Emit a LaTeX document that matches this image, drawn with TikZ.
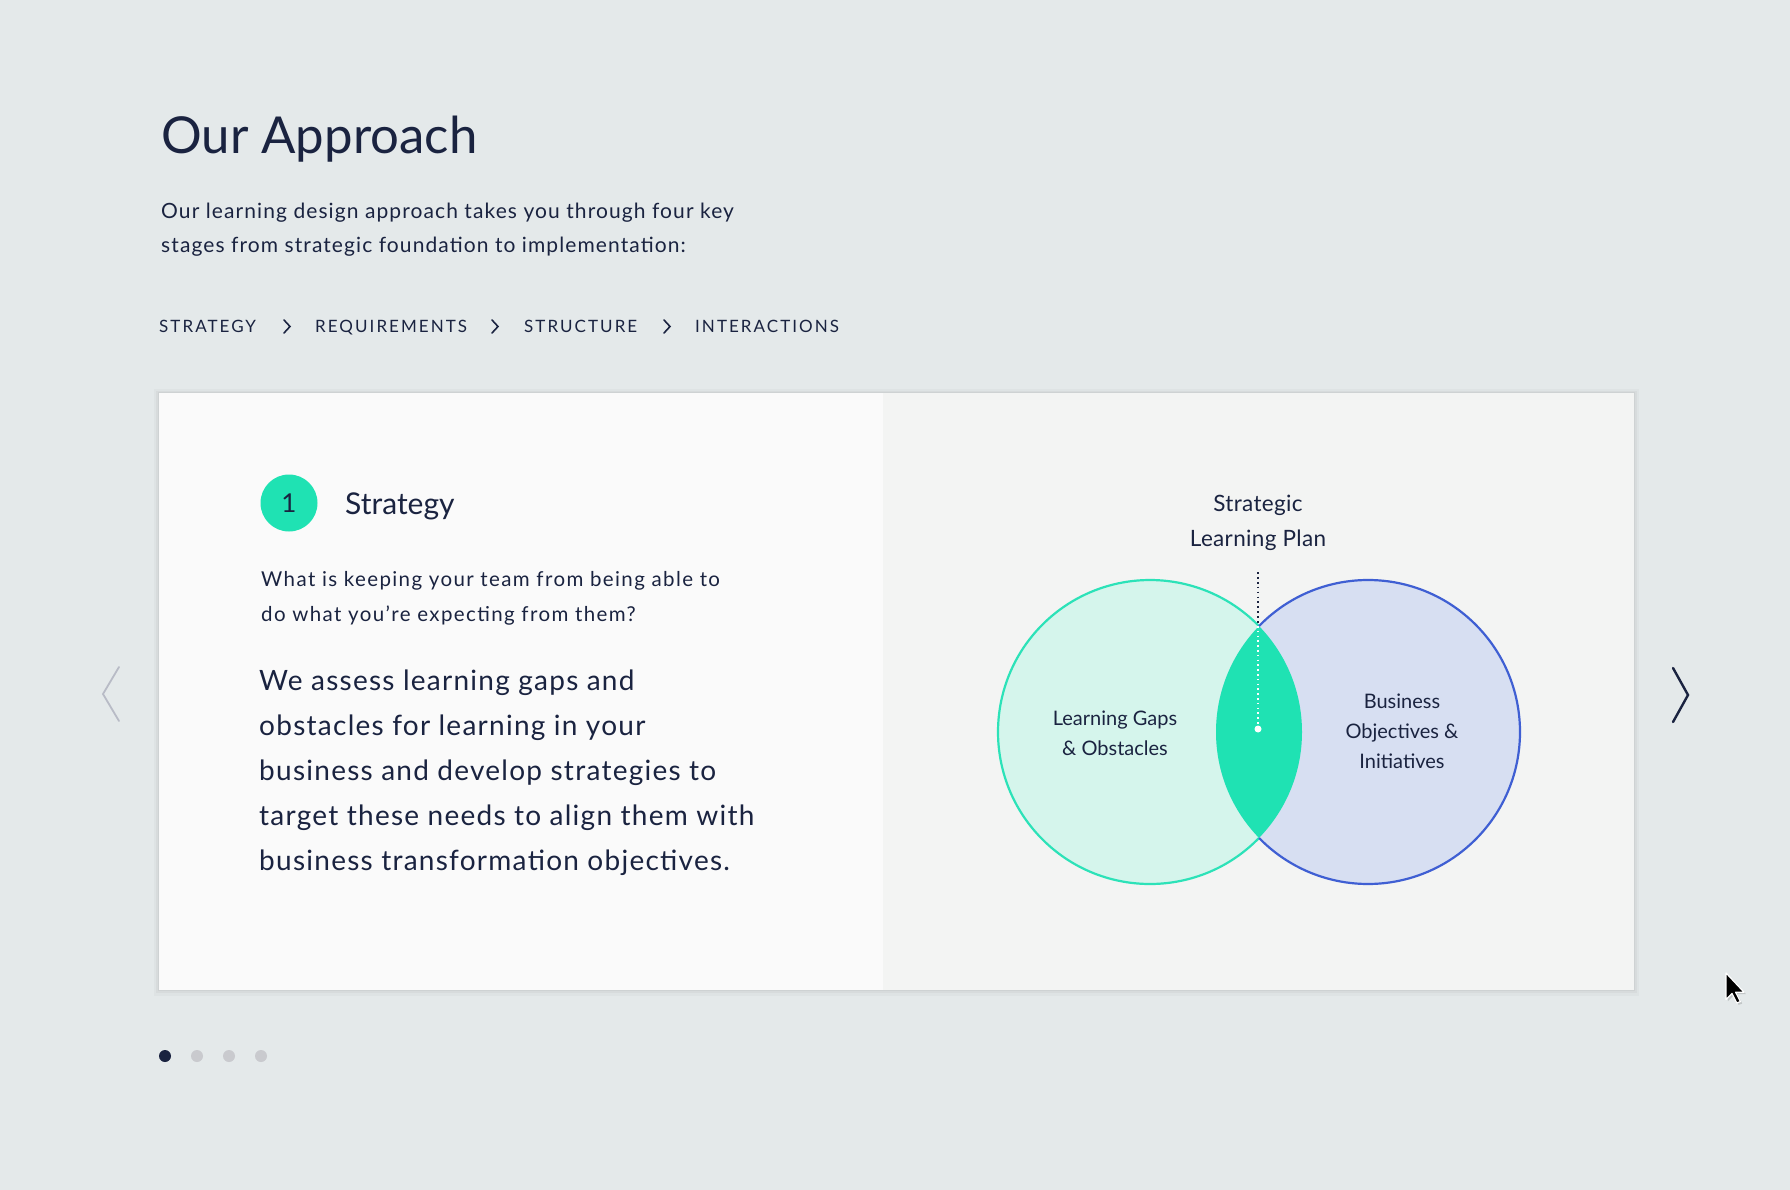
\documentclass[tikz,border=0pt]{standalone}
\usepackage{fontspec}
\setmainfont{Lato}
\definecolor{bg}{HTML}{E4E9EA}
\definecolor{navy}{HTML}{1A2340}
\definecolor{accent}{HTML}{1FE2B3}
\definecolor{mint}{HTML}{D5F5EC}
\definecolor{mintline}{HTML}{2CE2B8}
\definecolor{lav}{HTML}{D7DFF2}
\definecolor{blueline}{HTML}{3F5FD3}
\definecolor{cardL}{HTML}{FAFAFA}
\definecolor{cardR}{HTML}{F3F4F3}
\definecolor{dotgrey}{HTML}{C9CACE}
\definecolor{chevgrey}{HTML}{B8BBC6}
\tikzset{
  txt/.style={anchor=base west, inner sep=0pt, text=navy},
  ctxt/.style={anchor=base, inner sep=0pt, text=navy},
  crumb/.style={txt, font=\fontsize{17}{20}\selectfont\addfontfeatures{LetterSpace=12}},
  chev/.style={draw=navy, line width=1.6pt, line cap=round, line join=miter},
  big/.style={txt, font=\fontsize{28}{34}\selectfont\addfontfeatures{LetterSpace=4.5}},
  qtxt/.style={txt, font=\fontsize{20.5}{24}\selectfont\addfontfeatures{LetterSpace=6.8}},
  introtxt/.style={txt, font=\fontsize{21}{25}\selectfont\addfontfeatures{LetterSpace=5.2}},
  venntxt/.style={ctxt, font=\fontsize{20}{24}\selectfont},
  plantxt/.style={ctxt, font=\fontsize{22.5}{26}\selectfont\addfontfeatures{LetterSpace=1.5}},
  pagedot/.style={circle, minimum size=12pt, inner sep=0pt},
}
\begin{document}
\begin{tikzpicture}[x=1pt,y=-1pt]
\fill[bg] (0,0) rectangle (1790,1190);
\useasboundingbox (0,0) rectangle (1790,1190);

% header
\node[txt, font=\fontsize{50.9}{60}\selectfont] (title) at (161,154) {Our Approach};
\node[introtxt] (intro1) at (161,219) {Our learning design approach takes you through four key};
\node[introtxt] (intro2) at (161,253) {stages from strategic foundation to implementation:};

\node[crumb] (c1) at (159,332) {STRATEGY};
\node[crumb] (c2) at (315,332) {REQUIREMENTS};
\node[crumb] (c3) at (524,332) {STRUCTURE};
\node[crumb] (c4) at (695,332) {INTERACTIONS};
\foreach \cx in {287,495,667}{
  \draw[chev] (\cx-3,320) -- (\cx+3,326.5) -- (\cx-3,333);
}

% card
\fill[black, opacity=0.025] (154,389) rectangle (1639,996);
\fill[black, opacity=0.03] (156,391) rectangle (1637,993);
\fill[black, opacity=0.04] (158,392) rectangle (1635,991);
\fill[cardL] (159,393) rectangle (883,990);
\fill[cardR] (883,393) rectangle (1634,990);

% left content
\node[circle, fill=accent, minimum size=57pt, inner sep=0pt, text=navy,
      font=\fontsize{26}{30}\selectfont] (num) at (289,503) {1};
\node[txt, font=\fontsize{30}{36}\selectfont] (head) at (345,514) {Strategy};
\node[qtxt] (q1) at (261,586) {What is keeping your team from being able to};
\node[qtxt] (q2) at (261,621) {do what you’re expecting from them?};
\node[big] (b1) at (259,690) {We assess learning gaps and};
\node[big] (b2) at (259,735) {obstacles for learning in your};
\node[big] (b3) at (259,780) {business and develop strategies to};
\node[big] (b4) at (259,825) {target these needs to align them with};
\node[big] (b5) at (259,870) {business transformation objectives.};

% venn
\coordinate (lc) at (1150,732);
\coordinate (rc) at (1368,732);
\fill[mint] (lc) circle[radius=152];
\fill[lav] (rc) circle[radius=152];
\begin{scope}
  \clip (lc) circle[radius=152];
  \fill[accent] (rc) circle[radius=152];
\end{scope}
\draw[mintline, line width=2.2pt] ([shift={(44.2:152)}]lc) arc[start angle=44.2, end angle=315.8, radius=152];
\draw[blueline, line width=2.2pt] ([shift={(-135.8:152)}]rc) arc[start angle=-135.8, end angle=135.8, radius=152];

\node[plantxt] (plan1) at (1258,511) {Strategic};
\node[plantxt] (plan2) at (1258,546) {Learning Plan};
\coordinate (ptop) at (1258,572);
\coordinate (lenstop) at (1258,626);
\node[circle, fill=white, minimum size=7pt, inner sep=0pt] (pdot) at (1258,729) {};
\draw[navy, line width=1.7pt, dash pattern=on 1.7pt off 3.2pt] (ptop) -- (lenstop);
\draw[white, line width=1.6pt, dash pattern=on 1.6pt off 3.2pt] (lenstop) -- (pdot);

\node[venntxt] (lg1) at (1115,725) {Learning Gaps};
\node[venntxt] (lg2) at (1115,755) {\& Obstacles};
\node[venntxt] (bo1) at (1402,708) {Business};
\node[venntxt] (bo2) at (1402,738) {Objectives \&};
\node[venntxt] (bo3) at (1402,768) {Initiatives};

% arrows
\draw[chevgrey, line width=1.8pt, line cap=round] (119,667) -- (103,694) -- (119,721);
\draw[navy, line width=2.4pt, line cap=round] (1673,668) -- (1688,695) -- (1673,722);

% page dots
\node[pagedot, fill=navy] (d1) at (165,1056) {};
\node[pagedot, fill=dotgrey] (d2) at (197,1056) {};
\node[pagedot, fill=dotgrey] (d3) at (229,1056) {};
\node[pagedot, fill=dotgrey] (d4) at (261,1056) {};

% cursor
\begin{scope}[shift={(1726,973)}, scale=1.2]
  \fill[black, opacity=0.15] (1.5,1.5) -- (1.5,23.5) -- (6.5,18.5) -- (10.5,26.5) -- (13.5,25.5) -- (9.5,17.5) -- (16.5,17.5) -- cycle;
  \filldraw[fill=black, draw=white, line width=1.2pt, line join=round] (0,0) -- (0,22) -- (5,17) -- (9,25) -- (12,23.8) -- (8,16) -- (15,16) -- cycle;
\end{scope}
\end{tikzpicture}
\end{document}
